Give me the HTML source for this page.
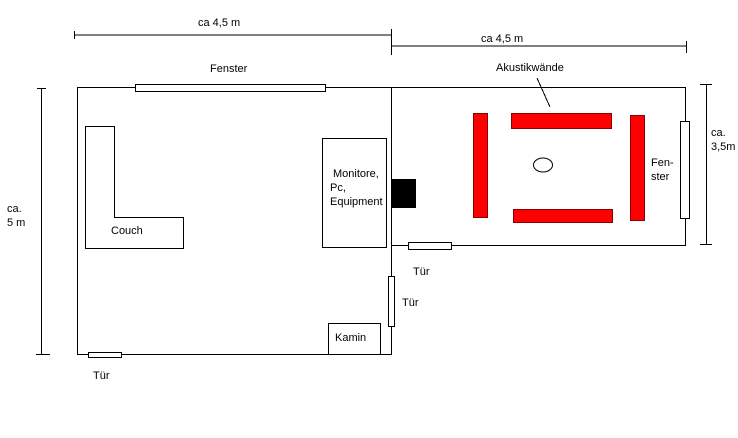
<!DOCTYPE html>
<html><head><meta charset="utf-8"><style>
html,body{margin:0;padding:0;background:#fff;}
svg{display:block;}
text{font-family:"Liberation Sans",Arial,sans-serif;font-size:11px;fill:#000;}
</style></head><body>
<svg width="738" height="438" viewBox="0 0 738 438" xmlns="http://www.w3.org/2000/svg">
<rect width="738" height="438" fill="#fff"/>
<g stroke="#000" stroke-width="1" fill="none" shape-rendering="crispEdges">
<!-- dimension lines -->
<line x1="74" y1="35" x2="391" y2="35"/>
<line x1="74.5" y1="31" x2="74.5" y2="39"/>
<line x1="391.5" y1="29" x2="391.5" y2="55"/>
<line x1="391" y1="46" x2="687" y2="46"/>
<line x1="686.5" y1="41" x2="686.5" y2="53"/>
<line x1="41.5" y1="88" x2="41.5" y2="354"/>
<line x1="37" y1="88.5" x2="46" y2="88.5"/>
<line x1="36" y1="354.5" x2="50" y2="354.5"/>
<line x1="706.5" y1="84" x2="706.5" y2="244"/>
<line x1="700" y1="84.5" x2="712" y2="84.5"/>
<line x1="700" y1="244.5" x2="712" y2="244.5"/>
<!-- rooms -->
<rect x="77.5" y="87.5" width="314" height="267"/>
<rect x="391.5" y="87.5" width="294" height="158"/>
<!-- couch -->
<polygon points="85.5,126.5 114.5,126.5 114.5,217.5 183.5,217.5 183.5,248.5 85.5,248.5"/>
<!-- monitor box -->
<rect x="322.5" y="138.5" width="64" height="109"/>
<!-- kamin -->
<rect x="328.5" y="323.5" width="52" height="31"/>
<line x1="537" y1="78" x2="550" y2="107"/>
</g>
<g stroke="#000" stroke-width="1" fill="#fff" shape-rendering="crispEdges">
<rect x="135.5" y="84.5" width="190" height="7"/>
<rect x="680.5" y="121.5" width="9" height="97"/>
<rect x="408.5" y="242.5" width="43" height="7"/>
<rect x="388.5" y="276.5" width="6" height="50"/>
<rect x="88.5" y="352.5" width="33" height="5"/>
</g>
<rect x="391" y="179" width="25" height="29" fill="#000"/>
<g fill="#f00" stroke="#800" stroke-width="1" shape-rendering="crispEdges">
<rect x="473.5" y="113.5" width="14" height="104"/>
<rect x="511.5" y="113.5" width="100" height="15"/>
<rect x="513.5" y="209.5" width="99" height="13"/>
<rect x="630.5" y="115.5" width="14" height="105"/>
</g>
<ellipse cx="543" cy="165" rx="9.5" ry="7" fill="none" stroke="#000"/>
<text x="198" y="26">ca 4,5 m</text>
<text x="481" y="42">ca 4,5 m</text>
<text x="210" y="72">Fenster</text>
<text x="496" y="71">Akustikwände</text>
<text x="111" y="234">Couch</text>
<text x="333" y="177">Monitore,</text>
<text x="330" y="191">Pc,</text>
<text x="330" y="205">Equipment</text>
<text x="651" y="166">Fen-</text>
<text x="651" y="180">ster</text>
<text x="711" y="136">ca.</text>
<text x="711" y="150">3,5m</text>
<text x="7" y="212">ca.</text>
<text x="7" y="226">5 m</text>
<text x="413" y="275">Tür</text>
<text x="402" y="306">Tür</text>
<text x="335" y="341">Kamin</text>
<text x="93" y="379">Tür</text>
</svg>
</body></html>
